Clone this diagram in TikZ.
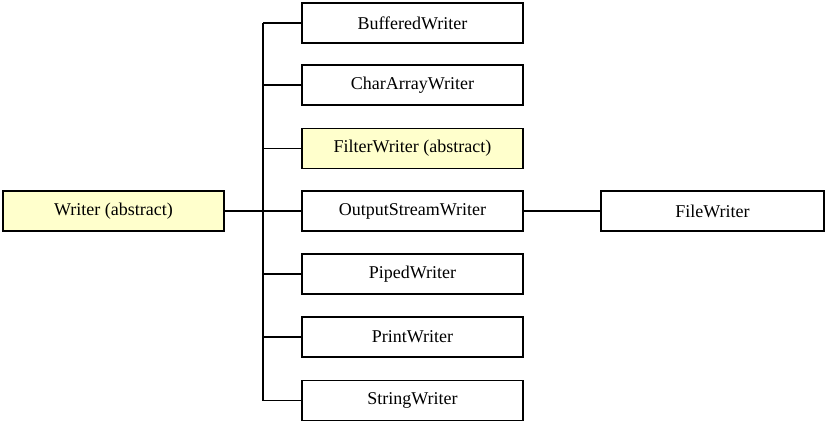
\documentclass[tikz,border=0pt]{standalone}
\usepackage{fontspec}
\setmainfont{Liberation Serif}
\usepackage{tikz}
\usetikzlibrary{positioning}
\usepackage{xcolor}
\definecolor{absyellow}{RGB}{255,255,204}

\begin{document}
\begin{tikzpicture}[x=1pt, y=1pt,
    cls/.style={draw, line width=1.3pt, minimum width=221pt, minimum height=40pt, inner sep=0pt,
      font=\fontsize{18}{21}\selectfont},
    abs/.style={cls, fill=absyellow},
    link/.style={line width=1.3pt}]
    \useasboundingbox (0,0) rectangle (825,424);

    \node[abs] at (113.5,213) (writer) {Writer (abstract)};

    \node[cls] at (412.5,401) (buffered) {BufferedWriter};
    \node[cls] at (412.5,339) (chararray) {CharArrayWriter};
    \node[abs] at (412.5,275.5) (filter) {FilterWriter (abstract)};
    \node[cls] at (412.5,213) (outstream) {OutputStreamWriter};
    \node[cls] at (412.5,150) (piped) {PipedWriter};
    \node[cls] at (412.5,87) (print) {PrintWriter};
    \node[cls] at (412.5,23.5) (string) {StringWriter};

    \node[cls, minimum width=223pt] at (712.5,213) (file) {FileWriter};

    \coordinate (trunk) at (263,213);

    \draw[link] (writer.east) -- (trunk);
    \draw[link] (buffered.west -| trunk) -- (string.west -| trunk);
    \foreach \n in {buffered, chararray, filter, outstream, piped, print, string}
      \draw[link] (\n.west -| trunk) -- (\n.west);
    \draw[link] (outstream) -- (file);
  \end{tikzpicture}
\end{document}
